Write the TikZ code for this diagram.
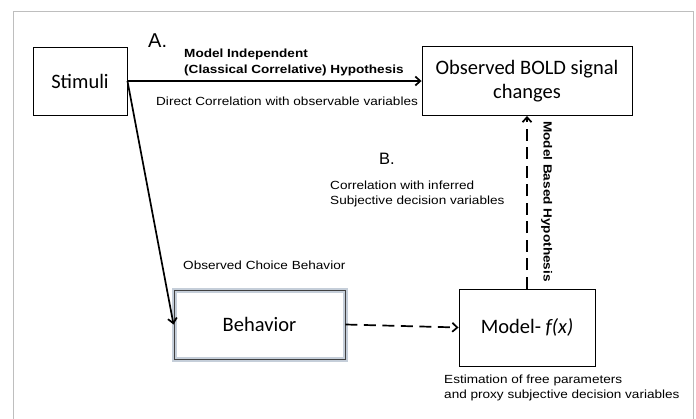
\documentclass[tikz,border=0pt]{standalone}
\usepackage{fontspec}
\setmainfont{Liberation Sans}
\newfontfamily\boxfont{Carlito}
\newfontfamily\labelfont[FakeStretch=1.15]{Liberation Sans}
\usepackage{tikz}
\usetikzlibrary{arrows.meta,calc}

\definecolor{framegray}{RGB}{190,190,190}
\definecolor{glowblue}{RGB}{150,165,185}

\begin{document}
\begin{tikzpicture}[
    x=1pt, y=-1pt,
    block/.style={rectangle, draw, line width=0.9pt, inner sep=0pt, align=center, font=\boxfont\fontsize{20.5}{24}\selectfont},
    glow/.style={preaction={draw=glowblue, line width=5pt, opacity=0.55}},
    arrow/.style={-{Straight Barb[length=5pt,width=9pt]}, line width=1.7pt},
    dasharrow/.style={arrow, dash pattern=on 12pt off 6.5pt},
    note/.style={font=\labelfont\fontsize{11.8}{14.8}\selectfont, align=left, inner sep=0pt},
    bnote/.style={note, font=\labelfont\fontsize{11.8}{16.5}\selectfont\bfseries},
    letter/.style={inner sep=0pt}
]
    % === canvas and outer frame ===
    \useasboundingbox (0,0) rectangle (696,418);
    \draw[framegray, line width=0.8pt] (13,430) -- (13,11) -- (693,11) -- (693,430);

    % === boxes ===
    \node[block, minimum width=94, minimum height=68] (stimuli) at (80,81) {Stimuli};
    \node[block, minimum width=210, minimum height=69] (bold) at (527,81) {Observed BOLD signal\\changes};
    \node[block, glow, draw=black!75, minimum width=171, minimum height=69] (behavior) at (259.5,324.5) {Behavior};
    \node[block, minimum width=136, minimum height=77] (model) at (527,327.5) {Model- \textit{f(x)}};

    % === connectors ===
    \draw[arrow] (stimuli.east) -- (bold.west);
    \draw[arrow] (stimuli.east) -- (behavior.west);
    \draw[dasharrow] (behavior.east) -- (model.west);
    \draw[dasharrow] (model.north) -- (bold.south);

    % === labels (base = last line) ===
    \node[letter, font=\fontsize{20}{24}\selectfont, anchor=base west] (labA) at (148,47) {A.};
    \node[bnote, anchor=base west] (indep) at (184,73.5) {Model Independent\\(Classical Correlative) Hypothesis};
    \node[note, anchor=base west] (direct) at (156,105) {Direct Correlation with observable variables};
    \node[letter, font=\fontsize{16.5}{20}\selectfont, anchor=base west] (labB) at (379,164) {B.};
    \node[note, anchor=base west] (inferred) at (330,204.5) {Correlation with inferred\\Subjective decision variables};
    \node[note, anchor=base west] (choice) at (183,269) {Observed Choice Behavior};
    \node[bnote, rotate=-90, anchor=south] (based) at (541,201.5) {Model Based Hypothesis};
    \node[note, anchor=base west] (estim) at (444,398.5) {Estimation of free parameters\\and proxy subjective decision variables};
\end{tikzpicture}
\end{document}
